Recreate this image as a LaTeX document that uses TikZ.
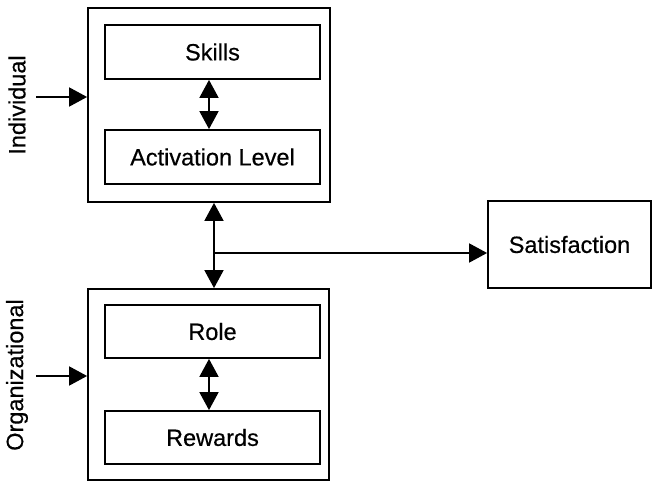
\documentclass[tikz,border=0pt]{standalone}
\usepackage{fontspec}
\setmainfont{Liberation Sans}
\newfontfamily\labelfont[FakeBold=0.5]{Liberation Sans}
\usetikzlibrary{arrows.meta}
\begin{document}
\begin{tikzpicture}[x=1pt,y=1pt,
  line width=1.8pt,
  box/.style={draw,rectangle,inner sep=0pt,minimum width=#1},
  lbl/.style={font=\labelfont\fontsize{23.5}{28}\selectfont},
  tip/.style={-{Triangle[length=18pt,width=19pt]}},
  twotip/.style={{Triangle[length=18pt,width=19pt]}-{Triangle[length=18pt,width=19pt]}}]
\useasboundingbox (0,0) rectangle (653,-481);
% Individual group
\node[box=242pt,minimum height=194pt] (top) at (209,-105) {};
\node[box=215pt,minimum height=54pt,lbl] (skills) at (212.5,-52) {Skills};
\node[box=215pt,minimum height=54pt,lbl] (act) at (212.5,-157) {Activation Level};
% Organizational group
\node[box=241pt,minimum height=191pt] (bot) at (208.5,-384.5) {};
\node[box=215pt,minimum height=53pt,lbl] (role) at (212.5,-331.5) {Role};
\node[box=215pt,minimum height=53pt,lbl] (rew) at (212.5,-437.5) {Rewards};
% Outcome
\node[box=163pt,minimum height=87pt,lbl] (sat) at (569.5,-244.5) {Satisfaction};
% Side labels
\node[lbl,rotate=90] (ind) at (17,-105) {Individual};
\node[lbl,rotate=90] (org) at (17,-375) {Organizational};
% Helper coordinates
\coordinate (inA) at (36,-97);
\coordinate (inB) at (36,-376);
\coordinate (ix) at (209,0);
\coordinate (mx) at (214,-253);
% Connectors
\draw[tip] (inA) -- (inA -| top.west);
\draw[tip] (inB) -- (inB -| bot.west);
\draw[twotip] (ix |- skills.south) -- (ix |- act.north);
\draw[twotip] (ix |- role.south) -- (ix |- rew.north);
\draw[twotip] (mx |- top.south) -- (mx |- bot.north);
\draw[tip] (mx) -- (mx -| sat.west);
\end{tikzpicture}
\end{document}
